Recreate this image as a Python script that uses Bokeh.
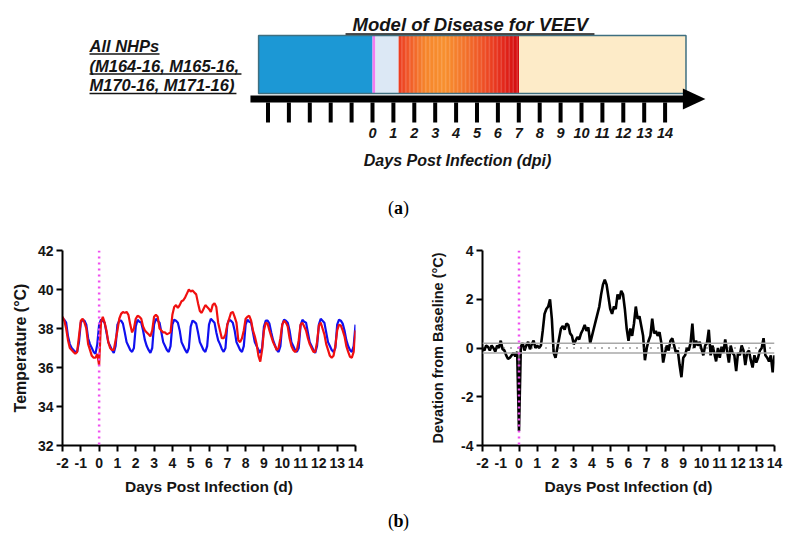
import numpy as np
from bokeh.plotting import figure
from bokeh.models import Range1d, Span, FixedTicker
from bokeh.layouts import column, row
from bokeh.core.properties import value
from bokeh.embed import file_html
from bokeh.resources import INLINE

# ---------------- data ----------------
# (a) timeline of disease phases (days post infection)
phase_names = ["Baseline", "Challenge", "Incubation", "Febrile", "Recovery"]
phase_start = [-5.45, 0.0, 0.14, 1.25, 7.0]
phase_end = [0.0, 0.14, 1.25, 7.0, 15.0]
phase_colors = ["#1C98D5", "#F27CF0", "#DCE8F5", None, "#FDEBC8"]
diagram_ticks = list(range(-5, 15))
diagram_tick_labels = [str(d) for d in range(0, 15)]
diagram_label_days = list(range(0, 15))

# (b) telemetry, days -2 .. 14 every 0.1 day
days = np.round(np.arange(-2.0, 14.05, 0.1), 1)

red_temp = [
    38.6, 38.4, 38.0, 37.4, 37.0, 36.9, 36.8, 36.7, 36.8, 37.6,
    38.4, 38.5, 38.3, 38.0, 37.2, 36.9, 36.6, 36.5, 36.5, 36.7,
    36.1, 38.3, 38.6, 38.3, 37.9, 37.3, 37.0, 36.9, 36.9, 37.4,
    37.9, 38.5, 38.75, 38.85, 38.8, 38.85, 38.7, 38.2, 37.8, 38.0,
    38.5, 38.65, 38.6, 38.5, 38.1, 37.9, 37.8, 37.7, 37.6, 37.9,
    38.6, 38.7, 38.6, 38.0, 37.9, 37.8, 37.8, 37.7, 37.75, 37.8,
    38.7, 39.1, 39.2, 39.05, 39.2, 39.4, 39.45, 39.6, 39.8, 40.0,
    39.9, 39.95, 39.85, 39.75, 39.3, 38.9, 38.8, 39.0, 39.2, 39.1,
    39.0, 38.85, 39.2, 39.3, 39.1, 38.3, 37.9, 37.5, 37.5, 37.7,
    38.2, 38.5, 38.8, 38.85, 38.6, 38.3, 37.4, 37.3, 37.5, 37.9,
    38.5, 38.6, 38.65, 38.4, 37.9, 37.6, 37.2, 36.6, 36.3, 36.9,
    37.9, 38.3, 38.25, 37.9, 37.6, 37.3, 37.1, 36.9, 37.0, 37.5,
    38.2, 38.4, 38.3, 38.1, 37.5, 37.1, 36.9, 36.8, 36.9, 37.4,
    38.2, 38.3, 38.1, 37.9, 37.5, 37.2, 37.0, 36.8, 36.8, 37.3,
    38.15, 38.3, 38.0, 37.7, 37.2, 36.9, 36.6, 36.5, 36.6, 37.1,
    37.9, 38.2, 38.15, 37.9, 37.6, 37.1, 36.8, 36.55, 36.5, 36.8,
    37.9,
]

blue_temp = [
    38.5, 38.45, 38.3, 37.6, 37.2, 37.0, 36.9, 36.8, 36.8, 37.3,
    38.3, 38.45, 38.4, 38.2, 37.5, 37.2, 37.0, 36.8, 36.7, 37.2,
    38.2, 38.45, 38.4, 38.3, 37.8, 37.3, 37.1, 36.9, 36.75, 37.1,
    38.2, 38.4, 38.4, 38.25, 37.8, 37.3, 37.1, 36.9, 36.8, 37.0,
    38.1, 38.45, 38.35, 38.3, 37.9, 37.4, 37.1, 36.9, 36.75, 37.0,
    38.2, 38.5, 38.4, 38.3, 37.8, 37.3, 37.1, 36.9, 36.8, 37.1,
    38.2, 38.45, 38.4, 38.3, 37.9, 37.3, 37.1, 36.9, 36.75, 37.0,
    38.1, 38.4, 38.35, 38.25, 37.8, 37.3, 37.1, 36.9, 36.8, 37.1,
    38.2, 38.5, 38.4, 38.3, 37.8, 37.4, 37.2, 36.95, 36.8, 37.0,
    38.2, 38.45, 38.4, 38.3, 37.9, 37.3, 37.1, 36.9, 36.8, 37.1,
    38.2, 38.45, 38.35, 38.3, 37.8, 37.3, 37.1, 36.9, 36.75, 37.0,
    38.1, 38.4, 38.4, 38.25, 37.8, 37.4, 37.15, 36.9, 36.8, 37.1,
    38.2, 38.45, 38.4, 38.3, 37.9, 37.3, 37.1, 36.9, 36.8, 37.0,
    38.15, 38.45, 38.35, 38.3, 37.8, 37.3, 37.1, 36.9, 36.75, 37.1,
    38.2, 38.5, 38.4, 38.3, 37.8, 37.3, 37.1, 36.9, 36.8, 37.0,
    38.2, 38.45, 38.4, 38.25, 37.9, 37.4, 37.1, 36.9, 36.8, 37.1,
    38.2,
]

deviation = [
    0.0, -0.1, 0.1, 0.05, -0.1, 0.1, 0.0, -0.15, 0.1, 0.0,
    0.3, -0.05, -0.1, -0.3, -0.45, -0.4, -0.3, -0.2, -0.35, -0.15,
    -3.4, 0.05, 0.2, -0.1, 0.1, 0.25, -0.05, 0.15, 0.3, 0.0,
    0.1, 0.0, 0.1, 0.7, 1.4, 1.6, 1.7, 2.0, 1.2, -0.2,
    -0.4, 0.0, 0.4, 0.8, 0.9, 0.75, 1.0, 0.95, 0.6, 0.5,
    0.15, 0.3, 0.45, 0.35, 0.6, 0.75, 0.95, 0.7, 0.85, 0.2,
    0.5, 0.8, 1.1, 1.4, 1.7, 2.2, 2.6, 2.8, 2.6, 2.1,
    1.6, 1.4, 1.7, 1.6, 2.2, 2.0, 2.35, 2.2, 1.6, 0.8,
    0.3, 0.8, 0.5, 1.0, 1.7, 1.2, 1.3, 0.9, 0.5, -0.5,
    0.0, 0.3, 0.5, 1.2, 0.6, 0.7, 0.5, 0.65, 0.2, -0.6,
    -0.2, 0.1, -0.1, 0.3, 0.4, 0.1, -0.2, -0.1, -0.7, -1.2,
    -0.4, -0.3, 0.0, -0.1, 0.2, 1.0, 0.0, 0.3, 0.1, 0.25,
    -0.05, -0.3, 0.1, 0.2, 0.75, -0.3, 0.1, -0.2, -0.55, 0.0,
    -0.4, 0.05, -0.2, 0.35, -0.1, -0.6, 0.1, -0.2, -0.3, -0.95,
    -0.2, -0.3, 0.1, -0.1, -0.7, -0.2, -0.1, -0.5, -0.8, -0.3,
    -0.6, -0.4, -0.1, 0.0, 0.4, -0.3, -0.4, -0.55, -0.3, -1.0,
    -0.3,
]
baseline_band = [-0.2, 0.2]
x_ticks = list(range(-2, 15))
temp_ticks = [32, 34, 36, 38, 40, 42]
dev_ticks = [-4, -2, 0, 2, 4]

SANS = "Liberation Sans"
SERIF = "Liberation Serif"
INK = "#151515"


def panel_label(p, x, y, letter):
    """MDPI-style '(a)' caption: bold letter between regular parentheses."""
    common = dict(text_font=value(SERIF), text_font_size="18px", text_baseline="middle",
                  text_color="black")
    p.text(x=[x], y=[y], text=[letter], text_align="center", text_font_style="bold", **common)
    p.text(x=[x], y=[y], text=["("], text_align="right", x_offset=-4.5, **common)
    p.text(x=[x], y=[y], text=[")"], text_align="left", x_offset=4.5, **common)


# ---------------- (a) diagram ----------------
top = figure(width=798, height=220, x_range=Range1d(-17.799, 20.383), y_range=Range1d(220, 0),
             toolbar_location=None, output_backend="svg", x_axis_type=None, y_axis_type=None,
             min_border=0)
top.outline_line_color = None
top.grid.visible = False

BOX_T, BOX_B = 35, 93
for s, e, c in zip(phase_start, phase_end, phase_colors):
    if c is not None:
        top.quad(left=s, right=e, top=BOX_T, bottom=BOX_B, fill_color=c, line_color=None)

# colour gradient for the febrile phase (style only)
stops = [(0.0, "#EC3B1F"), (0.08, "#F0582A"), (0.22, "#F6852C"), (0.38, "#F8902E"),
         (0.55, "#F3722A"), (0.72, "#EE4C24"), (0.87, "#E3281B"), (1.0, "#D20C10")]
def hex2rgb(h):
    return np.array([int(h[i:i + 2], 16) for i in (1, 3, 5)], dtype=float)
fs, fe = phase_start[3], phase_end[3]
n = 90
edges = np.linspace(fs, fe, n + 1)
gl, gr, gc = [], [], []
for i in range(n):
    t = (i + 0.5) / n
    for j in range(len(stops) - 1):
        if stops[j][0] <= t <= stops[j + 1][0]:
            a = (t - stops[j][0]) / (stops[j + 1][0] - stops[j][0])
            col = hex2rgb(stops[j][1]) * (1 - a) + hex2rgb(stops[j + 1][1]) * a
            break
    gl.append(edges[i]); gr.append(edges[i + 1] + 0.01)
    gc.append("#%02x%02x%02x" % tuple(int(round(v)) for v in col))
top.quad(left=gl, right=gr, top=BOX_T, bottom=BOX_B, fill_color=gc, line_color=None)

top.quad(left=phase_start[0], right=phase_end[-1], top=BOX_T, bottom=BOX_B,
         fill_color=None, line_color="#3F6F80", line_width=1.5)

# timeline bar + arrow + ticks
top.quad(left=-5.84, right=14.9, top=95, bottom=102, fill_color="black", line_color=None)
top.patch(x=[14.85, 15.93, 14.85], y=[88, 98.5, 109], fill_color="black", line_color=None)
top.segment(x0=diagram_ticks, x1=diagram_ticks, y0=[102] * len(diagram_ticks),
            y1=[122] * len(diagram_ticks), line_color="black", line_width=4)
top.text(x=diagram_label_days, y=[132] * len(diagram_label_days), text=diagram_tick_labels,
         text_font=value(SANS), text_font_style="bold italic", text_font_size="14.5px",
         text_align="center", text_baseline="middle", text_color=INK)
top.text(x=[4.07], y=[160], text=["Days Post Infection (dpi)"], text_font=value(SANS),
         text_font_style="bold italic", text_font_size="16px", text_align="center",
         text_baseline="middle", text_color=INK)
top.text(x=[4.68], y=[24], text=["Model of Disease for VEEV"], text_font=value(SANS),
         text_font_style="bold italic", text_font_size="18.5px", text_align="center",
         text_baseline="middle", text_color=INK)
top.segment(x0=[-1.29], x1=[10.62], y0=[33.5], y1=[33.5], line_color=INK, line_width=1.6)

left_lines = ["All NHPs", "(M164-16, M165-16,", "M170-16, M171-16)"]
left_y = [45, 65, 84]
top.text(x=[-13.54] * 3, y=left_y, text=left_lines, text_font=value(SANS),
         text_font_style="bold italic", text_font_size="16.5px", text_align="left",
         text_baseline="middle", text_color=INK)
top.segment(x0=[-13.54] * 3, x1=[-10.19, -6.27, -6.51], y0=[53.5, 73.5, 93], y1=[53.5, 73.5, 93],
            line_color=INK, line_width=1.4)
panel_label(top, 1.24, 207, "a")

# ---------------- (b) charts ----------------
def style(p, yticks):
    p.xaxis.ticker = FixedTicker(ticks=x_ticks)
    p.yaxis.ticker = FixedTicker(ticks=yticks)
    p.xaxis.major_label_overrides = {t: str(t) for t in x_ticks}
    p.yaxis.major_label_overrides = {t: str(t) for t in yticks}
    p.grid.visible = False
    p.outline_line_color = None
    p.axis.axis_line_width = 2
    p.axis.axis_line_color = "black"
    p.axis.major_tick_line_width = 2
    p.axis.major_tick_line_color = "black"
    p.axis.major_tick_out = 6
    p.axis.major_tick_in = 0
    p.axis.minor_tick_line_color = None
    p.axis.major_label_text_font = SANS
    p.axis.major_label_text_font_style = "bold"
    p.axis.major_label_text_font_size = "14px"
    p.axis.major_label_text_color = INK
    p.axis.axis_label_text_font = SANS
    p.axis.axis_label_text_font_style = "bold"
    p.axis.axis_label_text_color = INK
    p.xaxis.axis_label_text_font_size = "15.5px"
    p.xaxis.major_label_standoff = 6
    p.yaxis.major_label_standoff = 3
    p.xaxis.axis_label_standoff = 7
    p.xaxis.axis_label = "Days Post Infection (d)"

left = figure(width=399, height=290, x_range=Range1d(-2, 14), y_range=Range1d(32, 42),
              toolbar_location=None, output_backend="svg",
              min_border_left=62, min_border_right=44, min_border_top=30, min_border_bottom=65)
style(left, temp_ticks)
left.yaxis.axis_label = "Temperature (°C)"
left.yaxis.axis_label_text_font_size = "16px"
left.yaxis.axis_label_standoff = 6
left.line(days, blue_temp, line_color="#1010F0", line_width=2.2)
left.line(days, red_temp, line_color="#F01010", line_width=2.2)
left.add_layout(Span(location=0, dimension="height", line_color="#F050F0", line_width=2.5,
                     line_dash="2 4"))

right = figure(width=399, height=290, x_range=Range1d(-2, 14), y_range=Range1d(-4, 4),
               toolbar_location=None, output_backend="svg",
               min_border_left=83, min_border_right=24, min_border_top=30, min_border_bottom=65)
style(right, dev_ticks)
right.yaxis.axis_label = "Devation from Baseline (°C)"
right.yaxis.axis_label_text_font_size = "14.5px"
right.yaxis.axis_label_standoff = 12
for b in baseline_band:
    right.add_layout(Span(location=b, dimension="width", line_color="#A8A8A8", line_width=1.5))
right.add_layout(Span(location=0, dimension="width", line_color="#333333", line_width=1.5,
                      line_dash="1 6"))
right.line(days, deviation, line_color="black", line_width=2.6)
right.add_layout(Span(location=0, dimension="height", line_color="#F050F0", line_width=2.5,
                      line_dash="2 4"))

cap = figure(width=798, height=40, x_range=Range1d(0, 798), y_range=Range1d(40, 0),
             toolbar_location=None, output_backend="svg", x_axis_type=None, y_axis_type=None,
             min_border=0)
cap.outline_line_color = None
cap.grid.visible = False
panel_label(cap, 398, 10, "b")

layout = column(top, row(left, right), cap)
open("out.html", "w").write(file_html(layout, INLINE))
